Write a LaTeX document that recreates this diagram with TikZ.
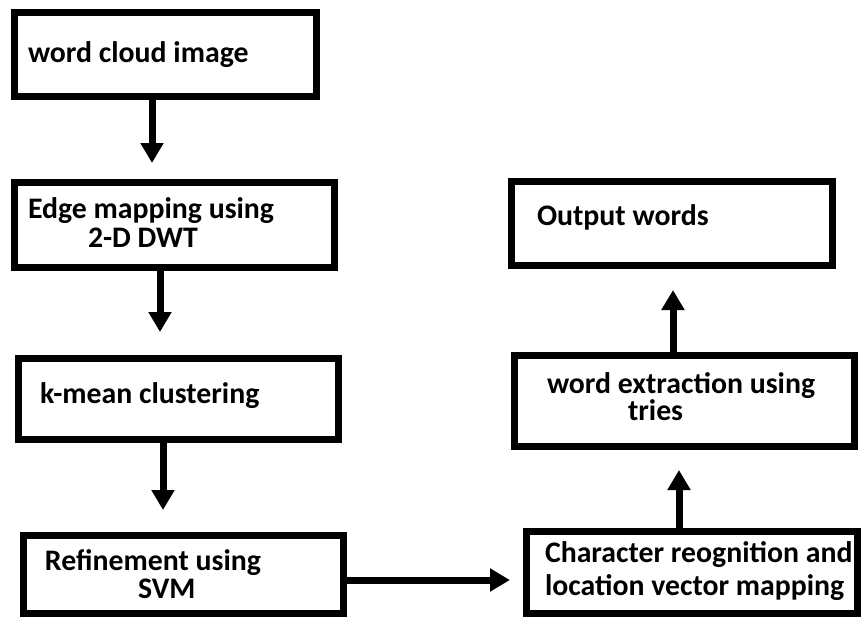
\documentclass[tikz,border=0pt]{standalone}
\usepackage{fontspec}
\setmainfont{Carlito}
\usetikzlibrary{arrows.meta}
\begin{document}
\begin{tikzpicture}[x=1pt,y=-1pt,
  stage/.style={draw=black,line width=7pt,fill=white,rectangle,inner sep=0pt,outer sep=0pt},
  label/.style={anchor=base west,inner sep=0pt,outer sep=0pt,font=\fontsize{29.8}{34}\selectfont\bfseries},
  flow/.style={line width=7pt,-{Triangle[length=20pt,width=22pt]}}]
\useasboundingbox[fill=white] (0,0) rectangle (863,619);

% process boxes
\node[stage,minimum width=302pt,minimum height=84pt] (cloud) at (165.5,54.5) {};
\node[stage,minimum width=320pt,minimum height=85pt] (edge)  at (174.5,225) {};
\node[stage,minimum width=320pt,minimum height=81pt] (kmean) at (178.5,399) {};
\node[stage,minimum width=320pt,minimum height=78pt] (svm)   at (183.5,574.5) {};
\node[stage,minimum width=331pt,minimum height=82pt] (ocr)   at (692,572.5) {};
\node[stage,minimum width=340pt,minimum height=91pt] (tries) at (684.5,401) {};
\node[stage,minimum width=321pt,minimum height=84pt] (out)   at (672,223.5) {};

% box texts
\node[label] (t1)  at (28,62)   {word cloud image};
\node[label] (t2a) at (28,218)  {Edge mapping using};
\node[label] (t2b) at (88,247)  {2-D DWT};
\node[label] (t3)  at (40,403)  {k-mean clustering};
\node[label] (t4a) at (45,570)  {Refinement using};
\node[label] (t4b) at (138,598) {SVM};
\node[label] (t5a) at (545,562) {Character reognition and};
\node[label] (t5b) at (545,595) {location vector mapping};
\node[label] (t6a) at (547,393) {word extraction using};
\node[label] (t6b) at (628,420) {tries};
\node[label] (t7)  at (537,225) {Output words};

% connectors
\draw[flow,shorten >=19.5pt] (152,0 |- cloud.south) -- (152,0 |- edge.north);
\draw[flow,shorten >=26.5pt] (160,0 |- edge.south) -- (160,0 |- kmean.north);
\draw[flow,shorten >=25.5pt] (163,0 |- kmean.south) -- (163,0 |- svm.north);
\draw[flow,shorten >=16.5pt] (svm.east |- 0,580) -- (ocr.west |- 0,580);
\draw[flow,shorten >=23.5pt] (679,0 |- ocr.north) -- (679,0 |- tries.south);
\draw[flow,shorten >=24.5pt] (673,0 |- tries.north) -- (673,0 |- out.south);
\end{tikzpicture}
\end{document}
